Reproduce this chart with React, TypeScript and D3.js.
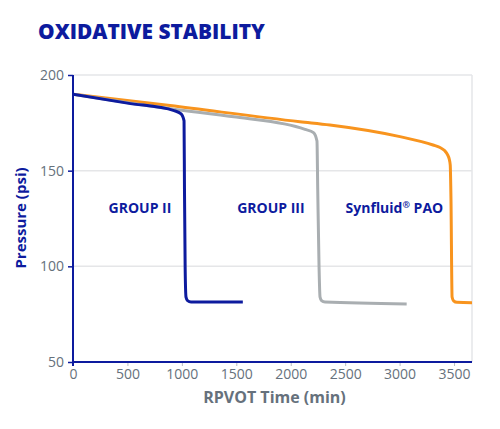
import { useEffect, useRef } from 'react'
import * as d3 from 'd3'

interface Pt {
  t: number
  p: number
}

// RPVOT time (min) / pressure (psi)
const groupIITime = [0, 500, 928, 993, 1020, 1024, 1030, 1038, 1052, 1084, 1560]
const groupIIPsi = [190, 185.3, 181.4, 179.7, 176, 140, 100, 83.9, 82.1, 81.4, 81.3]

const groupIIITime = [0, 891, 1500, 2131, 2209, 2241, 2248, 2260, 2269, 2283, 2315, 3065]
const groupIIIPsi = [190, 182.4, 178, 171.6, 169.9, 165.5, 140, 100, 84, 82.1, 81.3, 80.3]

const paoTime = [0, 891, 2084, 2360, 3003, 3307, 3371, 3413, 3440, 3457, 3465, 3472, 3482, 3496, 3527, 3700]
const paoPsi = [190, 184, 175.6, 173.9, 167.8, 163.4, 162.1, 160.5, 158.4, 155.8, 153, 134.7, 84, 82, 81.2, 81]

const seriesNames = ['GROUP II', 'GROUP III', 'Synfluid']
const seriesSuffix = ['', '', ' PAO']
const seriesColors = ['#0d1b9e', '#a9aeb1', '#f8941e']
const labelTime = [615, 1818, 2952]
const labelPsi = [128, 128, 128]

const xTicks = [0, 500, 1000, 1500, 2000, 2500, 3000, 3500]
const yTicks = [50, 100, 150, 200]

const zip = (ts: number[], ps: number[]): Pt[] => ts.map((t, i) => ({ t, p: ps[i] }))

export default function App() {
  const svgRef = useRef<SVGSVGElement>(null)

  useEffect(() => {
    if (!svgRef.current) return
    const svg = d3.select(svgRef.current)
    svg.selectAll('*').remove()

    const W = 500
    const H = 429
    const left = 73
    const right = 472
    const top = 75
    const bottom = 362
    const font = '"Open Sans", "Noto Sans", sans-serif'
    const navy = '#0d1b9e'
    const tickGray = '#66717c'

    svg.attr('width', W).attr('height', H)

    const x = d3.scaleLinear().domain([0, 3665]).range([left, right])
    const y = d3.scaleLinear().domain([50, 200]).range([bottom, top])

    const defs = svg.append('defs')
    defs.append('clipPath').attr('id', 'plotClip')
      .append('rect').attr('x', left).attr('y', top - 5).attr('width', right - left).attr('height', bottom - top + 10)

    // title
    svg.append('text').attr('x', 38).attr('y', 39)
      .style('font-family', font).style('font-weight', 800).style('font-size', '21px')
      .style('fill', navy).attr('textLength', 227).attr('lengthAdjust', 'spacingAndGlyphs')
      .text('OXIDATIVE STABILITY')

    // gridlines
    svg.append('g').selectAll('line').data(yTicks.filter(d => d > 50)).enter().append('line')
      .attr('x1', left).attr('x2', right).attr('y1', d => y(d)).attr('y2', d => y(d))
      .style('stroke', '#e5e6e8').style('stroke-width', 1.5)

    // right border
    svg.append('line').attr('x1', right).attr('x2', right).attr('y1', top).attr('y2', bottom)
      .style('stroke', '#e5e6e8').style('stroke-width', 1.5)

    // series lines
    const line = d3.line<Pt>().x(d => x(d.t)).y(d => y(d.p)).curve(d3.curveMonotoneX)
    const series = [zip(groupIITime, groupIIPsi), zip(groupIIITime, groupIIIPsi), zip(paoTime, paoPsi)]
    const lines = svg.append('g').attr('clip-path', 'url(#plotClip)')
    ;[2, 1, 0].forEach(i => {
      lines.append('path').datum(series[i])
        .attr('fill', 'none').attr('stroke', seriesColors[i]).attr('stroke-width', 3)
        .attr('stroke-linejoin', 'round').attr('d', line)
    })

    // series labels
    seriesNames.forEach((name, i) => {
      const label = svg.append('text').attr('x', x(labelTime[i])).attr('y', y(labelPsi[i]))
        .attr('text-anchor', 'middle')
        .style('font-family', font).style('font-weight', 700).style('font-size', '14px')
        .style('fill', navy)
      label.append('tspan').text(name)
      if (seriesSuffix[i]) {
        label.append('tspan').attr('dy', -5).style('font-size', '9px').text('®')
        label.append('tspan').attr('dy', 5).text(seriesSuffix[i])
      }
    })

    // x axis
    const xAxis = svg.append('g').attr('transform', `translate(0,${bottom})`)
      .call(d3.axisBottom(x).tickValues(xTicks).tickSize(4).tickPadding(3).tickFormat(d => String(d)))
    xAxis.select('.domain').remove()
    xAxis.selectAll('line').style('stroke', '#b8bdc2')
    xAxis.selectAll('text').style('font-family', font).style('font-size', '14px').style('fill', tickGray)

    // y axis
    const yAxis = svg.append('g').attr('transform', `translate(${left},0)`)
      .call(d3.axisLeft(y).tickValues(yTicks).tickSize(5).tickPadding(4).tickFormat(d => String(d)))
    yAxis.select('.domain').remove()
    yAxis.selectAll('line').style('stroke', navy).style('stroke-width', 1.5)
    yAxis.selectAll('text').style('font-family', font).style('font-size', '14px').style('fill', tickGray)

    // axis lines
    svg.append('line').attr('x1', left - 1).attr('x2', right).attr('y1', bottom).attr('y2', bottom)
      .style('stroke', navy).style('stroke-width', 2)
    svg.append('line').attr('x1', left).attr('x2', left).attr('y1', top).attr('y2', bottom + 4)
      .style('stroke', navy).style('stroke-width', 2)

    // axis titles
    svg.append('text').attr('x', (left + right) / 2 + 2).attr('y', 403).attr('text-anchor', 'middle')
      .style('font-family', font).style('font-weight', 700).style('font-size', '16px')
      .style('fill', tickGray).text('RPVOT Time (min)')

    svg.append('text').attr('transform', 'rotate(-90)').attr('x', -218).attr('y', 26)
      .attr('text-anchor', 'middle')
      .style('font-family', font).style('font-weight', 700).style('font-size', '15px')
      .style('fill', navy).text('Pressure (psi)')
  }, [])

  return <svg ref={svgRef} style={{ position: 'absolute', left: 0, top: 0, background: '#fff' }} />
}
